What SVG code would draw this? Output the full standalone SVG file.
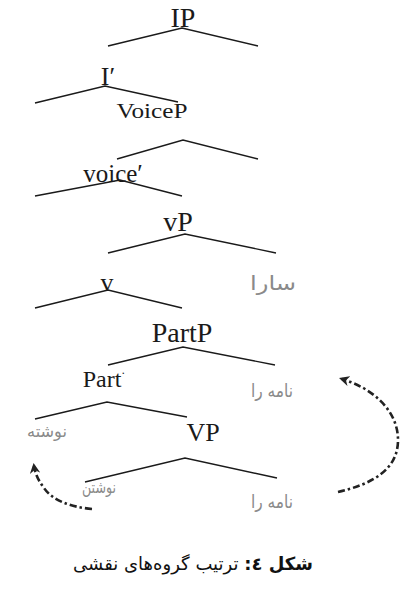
<svg xmlns="http://www.w3.org/2000/svg" width="402" height="593" viewBox="0 0 402 593">
<style>
.lat{font-family:"Liberation Serif","Times New Roman",serif;fill:#1a1a1a;text-anchor:middle}
.fa{font-family:"DejaVu Sans","Noto Sans",sans-serif;fill:#8a8a8a;text-anchor:middle}
.br{fill:none;stroke:#1a1a1a;stroke-width:1.4}
.mv{fill:none;stroke:#222;stroke-width:2.6;stroke-dasharray:7 3 2.5 3}
.cap{font-family:"DejaVu Sans","Noto Sans",sans-serif;fill:#111;text-anchor:middle}
</style>
<defs>
<marker id="ah" viewBox="0 0 10 10" refX="7" refY="5" markerWidth="4" markerHeight="4" orient="auto" markerUnits="strokeWidth">
<path d="M10,5 L0,0 L3,5 L0,10 Z" fill="#222"/>
</marker>
</defs>
<rect width="402" height="593" fill="#fff"/>
<g id="IP"><text class="lat" x="183" y="27" font-size="28">IP</text></g>
<g id="Ibar"><text class="lat" x="108" y="85" font-size="26">I′</text></g>
<g id="VoiceP"><text class="lat" x="152" y="118" font-size="22" textLength="71" lengthAdjust="spacingAndGlyphs">VoiceP</text></g>
<g id="voicebar"><text class="lat" x="113" y="182" font-size="25">voice′</text></g>
<g id="vP"><text class="lat" x="178" y="231" font-size="28">vP</text></g>
<g id="v"><text class="lat" x="107" y="291" font-size="26">v</text></g>
<g id="sara"><text class="fa" x="273" y="290" font-size="20" textLength="46" lengthAdjust="spacingAndGlyphs">سارا</text></g>
<g id="PartP"><text class="lat" x="182" y="342" font-size="28">PartP</text></g>
<g id="Partbar"><text class="lat" x="104" y="387" font-size="24">Part<tspan font-size="12" dy="-10">·</tspan></text></g>
<g id="nameRa1"><text class="fa" x="272" y="397" font-size="18" textLength="42" lengthAdjust="spacingAndGlyphs">نامه را</text></g>
<g id="neveshte"><text class="fa" x="47" y="437" font-size="17" textLength="40" lengthAdjust="spacingAndGlyphs">نوشته</text></g>
<g id="VP"><text class="lat" x="203" y="441" font-size="26">VP</text></g>
<g id="neveshtan"><text class="fa" x="99" y="493" font-size="17" textLength="34" lengthAdjust="spacingAndGlyphs">نوشتن</text></g>
<g id="nameRa2"><text class="fa" x="272" y="508" font-size="18" textLength="42" lengthAdjust="spacingAndGlyphs">نامه را</text></g>
<g id="connectors">
<path class="br" d="M108,46 L182,28 L258,46"/>
<path class="br" d="M35,103 L105,86 L178,102"/>
<path class="br" d="M117,159 L183,140 L258,159"/>
<path class="br" d="M35,196 L120,180 L182,196"/>
<path class="br" d="M108,253 L185,234 L276,253"/>
<path class="br" d="M35,308 L108,290 L182,308"/>
<path class="br" d="M108,365 L183,347 L275,365"/>
<path class="br" d="M35,419 L107,402 L187,417"/>
<path class="br" d="M85,482 L185,458 L277,478"/>
<path class="mv" marker-end="url(#ah)" d="M338,492 C372,484 398,470 398,440 C398,410 372,388 342,379"/>
<path class="mv" marker-end="url(#ah)" d="M92,509 C70,507 52,500 44,488 C38,480 35,473 34,466"/>
</g>
<g id="caption">
<text class="cap" x="193" y="570" font-size="18" direction="rtl" unicode-bidi="embed"><tspan font-weight="bold">شکل ٤:</tspan> ترتیب گروه‌های نقشی</text>
</g>
</svg>
